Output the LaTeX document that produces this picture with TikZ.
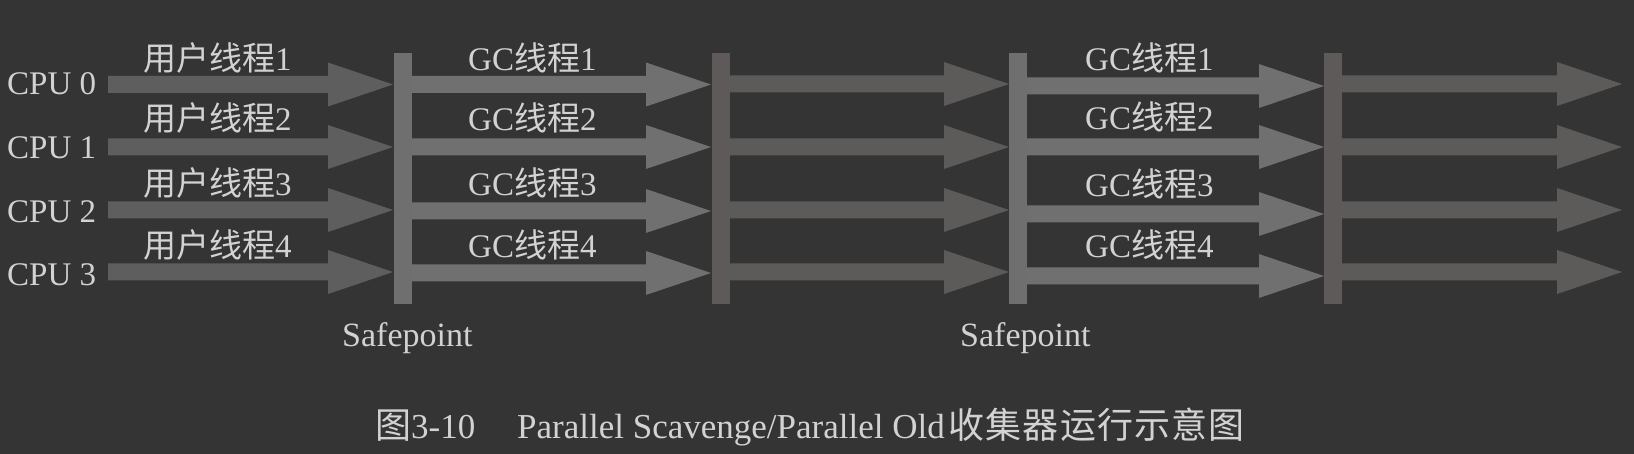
\documentclass[tikz,border=0pt]{standalone}
\usepackage{fontspec}
\setmainfont{Liberation Serif}
\newfontfamily\cjk{Noto Sans CJK SC}
\definecolor{bg}{HTML}{343434}
\definecolor{userc}{HTML}{5e5e5e}
\definecolor{gcc}{HTML}{707070}
\definecolor{barA}{HTML}{6f6f6f}
\definecolor{barB}{HTML}{5e5a5a}
\definecolor{postc}{HTML}{5d5a5a}
\definecolor{txt}{HTML}{d2d2d2}
\newcommand\farrow[4]{% x1, tip x, y, colour
  \fill[#4] (#1,#3-8.5) -- (#2-65,#3-8.5) -- (#2-65,#3-22) -- (#2,#3)
    -- (#2-65,#3+22) -- (#2-65,#3+8.5) -- (#1,#3+8.5) -- cycle;}
\newcommand\capcjk[1]{\hbox to 37.1pt{\hss\fontsize{36}{42}\selectfont\cjk #1\hss}}
\begin{document}
\begin{tikzpicture}[x=1pt,y=-1pt,
  lbl/.style={text=txt, inner sep=0pt, anchor=base west, font=\fontsize{33}{40}\selectfont},
  sp/.style={text=txt, inner sep=0pt, anchor=base west, font=\fontsize{34}{40}\selectfont},
  captxt/.style={text=txt, inner sep=0pt, anchor=base west, font=\fontsize{35}{42}\selectfont},
  bar/.style={inner sep=0pt, minimum width=18pt, minimum height=251pt, draw=none}]
\fill[bg] (0,0) rectangle (1634,454);
\useasboundingbox (0,0) rectangle (1634,454);
% safepoint bars
\node[bar, fill=barA] (b1) at (403,178.5) {};
\node[bar, fill=barB] (b2) at (721,178.5) {};
\node[bar, fill=barA] (b3) at (1018,178.5) {};
\node[bar, fill=barB] (b4) at (1333,178.5) {};
% user thread arrows
\farrow{108}{393}{84.5}{userc}
\farrow{108}{393}{147}{userc}
\farrow{108}{393}{210}{userc}
\farrow{108}{393}{272}{userc}
% GC arrows 1
\farrow{412}{711}{84.5}{gcc}
\farrow{412}{711}{147}{gcc}
\farrow{412}{711}{211}{gcc}
\farrow{412}{711}{273}{gcc}
% after GC 1
\farrow{730}{1009}{84}{postc}
\farrow{730}{1009}{147}{postc}
\farrow{730}{1009}{210}{postc}
\farrow{730}{1009}{272}{postc}
% GC arrows 2
\farrow{1027}{1324}{86}{gcc}
\farrow{1027}{1324}{147}{gcc}
\farrow{1027}{1324}{214}{gcc}
\farrow{1027}{1324}{276}{gcc}
% after GC 2
\farrow{1342}{1622}{84}{postc}
\farrow{1342}{1622}{147}{postc}
\farrow{1342}{1622}{210}{postc}
\farrow{1342}{1622}{272}{postc}
% CPU labels
\node[lbl] (c0) at (7,95) {CPU 0};
\node[lbl] (c1) at (7,159) {CPU 1};
\node[lbl] (c2) at (7,223) {CPU 2};
\node[lbl] (c3) at (7,286) {CPU 3};
% user thread labels
\node[lbl] (u1) at (143,71) {{\cjk 用户线程}1};
\node[lbl] (u2) at (143,131) {{\cjk 用户线程}2};
\node[lbl] (u3) at (143,196) {{\cjk 用户线程}3};
\node[lbl] (u4) at (143,258) {{\cjk 用户线程}4};
% GC labels 1
\node[lbl] (g1) at (468,71) {GC{\cjk 线程}1};
\node[lbl] (g2) at (468,131) {GC{\cjk 线程}2};
\node[lbl] (g3) at (468,196) {GC{\cjk 线程}3};
\node[lbl] (g4) at (468,258) {GC{\cjk 线程}4};
% GC labels 2
\node[lbl] (h1) at (1085,71) {GC{\cjk 线程}1};
\node[lbl] (h2) at (1085,130) {GC{\cjk 线程}2};
\node[lbl] (h3) at (1085,197) {GC{\cjk 线程}3};
\node[lbl] (h4) at (1085,258) {GC{\cjk 线程}4};
% safepoints
\node[sp] (s1) at (342,347) {Safepoint};
\node[sp] (s2) at (960,347) {Safepoint};
% caption
\node[captxt] (capA) at (375,438) {{\fontsize{36}{42}\selectfont\cjk 图}3-10};
\node[captxt] (capB) at (517,438) {Parallel Scavenge/Parallel Old};
\node[captxt] (capC) at (948,438) {\capcjk{收}\capcjk{集}\capcjk{器}\capcjk{运}\capcjk{行}\capcjk{示}\capcjk{意}\capcjk{图}};
\end{tikzpicture}
\end{document}
